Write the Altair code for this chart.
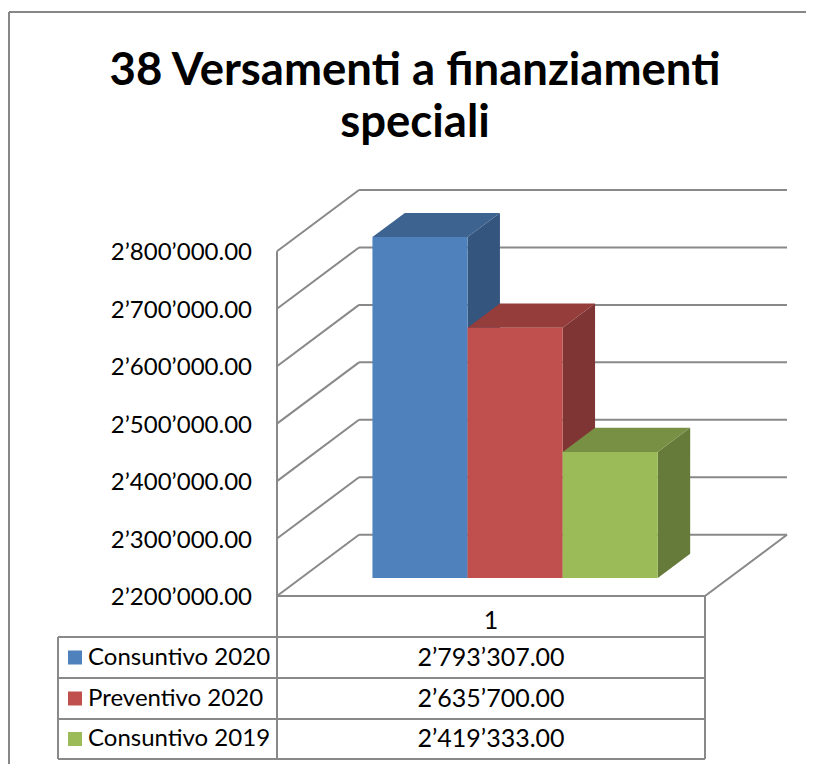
import altair as alt
import pandas as pd

# ---------------- data ----------------
title_lines = ["38 Versamenti a finanziamenti", "speciali"]
category_label = "1"
series = ["Consuntivo 2020", "Preventivo 2020", "Consuntivo 2019"]
values = [2793307.00, 2635700.00, 2419333.00]
tick_values = [2200000, 2300000, 2400000, 2500000, 2600000, 2700000, 2800000]
tick_labels = [f"{v:,.2f}".replace(",", "\u2019") for v in tick_values]
value_labels = [f"{v:,.2f}".replace(",", "\u2019") for v in values]

front_colors = ["#4F81BD", "#C0504D", "#9BBB59"]
top_colors = ["#3D6391", "#943D3B", "#779044"]
side_colors = ["#34557D", "#7F3533", "#667B3A"]
GRID = "#898989"
FONT = "Lato"

# ---------------- layout (pixels) ----------------
ORIGIN_X, ORIGIN_Y = 277, 190          # view top-left (page coords)
VIEW_W, VIEW_H = 510, 406              # back-wall box
FLOOR_Y = ORIGIN_Y + VIEW_H            # front floor line (page y)
FRONT_W = 428                          # front floor width px
PX_PER_VAL = 574.5 / 1e6               # px per value unit
DEPTH_PX_X, DEPTH_PX_Y = 82, 61.3      # 3D depth offset of the walls
BAR_W = 1 / 4.5                        # gap width 150 %
BAR_START = 0.75 / 4.5
F0, F1 = 0.294, 0.689                  # bar depth (front / back plane)

Y0 = tick_values[0]
X_MAX = VIEW_W / FRONT_W
Y_MAX = Y0 + VIEW_H / PX_PER_VAL
DX = DEPTH_PX_X / FRONT_W
DY = DEPTH_PX_Y / PX_PER_VAL


def px_x(px):
    return (px - ORIGIN_X) / FRONT_W


def px_y(py):
    return Y0 + (FLOOR_Y - py) / PX_PER_VAL


xs = alt.Scale(domain=[0, X_MAX], nice=False, zero=False)
ys = alt.Scale(domain=[Y0, Y_MAX], nice=False, zero=False)


def X(f, **kw):
    return alt.X(f, scale=xs, axis=None, **kw)


def Y(f, **kw):
    return alt.Y(f, scale=ys, axis=None, **kw)


# ---------------- walls / floor ----------------
segs = []
for v in tick_values:
    segs.append(dict(x=DX, x2=1 + DX, y=v + DY, y2=v + DY))      # back wall grid
    segs.append(dict(x=0, x2=DX, y=v, y2=v + DY))                # left wall diagonals
segs.append(dict(x=0, x2=1, y=Y0, y2=Y0))                        # floor front
segs.append(dict(x=1, x2=1 + DX, y=Y0, y2=Y0 + DY))              # floor right
# table lines
TBL_L, TBL_R = px_x(58), 1.0
row_lines = [637, 678, 719, 759]
for r in row_lines:
    segs.append(dict(x=TBL_L, x2=TBL_R, y=px_y(r), y2=px_y(r)))
segs.append(dict(x=0, x2=0, y=tick_values[-1], y2=px_y(row_lines[-1])))
segs.append(dict(x=TBL_L, x2=TBL_L, y=px_y(row_lines[0]), y2=px_y(row_lines[-1])))
segs.append(dict(x=1, x2=1, y=Y0, y2=px_y(row_lines[-1])))
seg_df = pd.DataFrame(segs)

lines = alt.Chart(seg_df).mark_rule(color=GRID, strokeWidth=2).encode(
    x=X("x:Q"), x2="x2:Q", y=Y("y:Q"), y2="y2:Q"
)

# outer chart frame
frame_df = pd.DataFrame([
    dict(x=px_x(9), x2=px_x(830), y=px_y(12), y2=px_y(12)),
    dict(x=px_x(9), x2=px_x(9), y=px_y(12), y2=px_y(790)),
])
frame = alt.Chart(frame_df).mark_rule(color="#878787", strokeWidth=2).encode(
    x=X("x:Q"), x2="x2:Q", y=Y("y:Q"), y2="y2:Q"
)

# ---------------- bars ----------------
d = F1 - F0
front_rows, side_rows, top_rows = [], [], []
for i, (s, v) in enumerate(zip(series, values)):
    x0 = BAR_START + i * BAR_W + F0 * DX
    x1 = x0 + BAR_W
    yb = Y0 + F0 * DY
    yt = v + F0 * DY
    front_rows.append(dict(s=s, x0=x0, x1=x1, yb=yb, yt=yt, c=front_colors[i]))
    side_rows.append(dict(s=s, x=x1, ylo=yb, yhi=yt, c=side_colors[i]))
    side_rows.append(dict(s=s, x=x1 + d * DX, ylo=yb + d * DY, yhi=yt + d * DY, c=side_colors[i]))
    top_rows.append(dict(s=s, y=yt, xl=x0, xr=x1, c=top_colors[i]))
    top_rows.append(dict(s=s, y=yt + d * DY, xl=x0 + d * DX, xr=x1 + d * DX, c=top_colors[i]))

sides = alt.Chart(pd.DataFrame(side_rows)).mark_area(orient="vertical").encode(
    x=X("x:Q"), y=Y("ylo:Q", stack=None), y2="yhi:Q",
    detail="s:N", color=alt.Color("c:N", scale=None)
)
tops = alt.Chart(pd.DataFrame(top_rows)).mark_area(orient="horizontal").encode(
    y=Y("y:Q"), x=X("xl:Q", stack=None), x2="xr:Q",
    detail="s:N", color=alt.Color("c:N", scale=None)
)
fronts = alt.Chart(pd.DataFrame(front_rows)).mark_rect().encode(
    x=X("x0:Q"), x2="x1:Q", y=Y("yb:Q"), y2="yt:Q",
    color=alt.Color("c:N", scale=None)
)

# ---------------- texts ----------------
tick_df = pd.DataFrame({"v": tick_values, "label": tick_labels, "x": px_x(252)})
ticks = alt.Chart(tick_df).mark_text(
    align="right", baseline="middle", font=FONT, fontSize=24, color="black", dy=2
).encode(x=X("x:Q"), y=Y("v:Q"), text="label:N")

title_df = pd.DataFrame({
    "t": title_lines,
    "x": [px_x(415)] * 2,
    "y": [px_y(85), px_y(137)],
})
title = alt.Chart(title_df).mark_text(
    align="center", baseline="alphabetic", font=FONT, fontSize=45.5,
    fontWeight="bold", color="black"
).encode(x=X("x:Q"), y=Y("y:Q"), text="t:N")

row_centers = [657.5, 698.5, 739]
head_df = pd.DataFrame({"t": [category_label], "x": [0.5], "y": [px_y(621)]})
header = alt.Chart(head_df).mark_text(
    align="center", baseline="middle", font=FONT, fontSize=25, color="black"
).encode(x=X("x:Q"), y=Y("y:Q"), text="t:N")

rows_df = pd.DataFrame({
    "s": series,
    "val": value_labels,
    "c": front_colors,
    "y": [px_y(r) for r in row_centers],
    "xs": px_x(75),
    "xn": px_x(88),
    "xv": 0.5,
})
squares = alt.Chart(rows_df).mark_square(size=196, opacity=1).encode(
    x=X("xs:Q"), y=Y("y:Q"), color=alt.Color("c:N", scale=None)
)
names = alt.Chart(rows_df).mark_text(
    align="left", baseline="middle", font=FONT, fontSize=24, color="black"
).encode(x=X("xn:Q"), y=Y("y:Q"), text="s:N")
vals = alt.Chart(rows_df).mark_text(
    align="center", baseline="middle", font=FONT, fontSize=25, color="black"
).encode(x=X("xv:Q"), y=Y("y:Q"), text="val:N")

chart = alt.layer(
    frame, lines, sides, tops, fronts, ticks, title, header, squares, names, vals
).properties(
    width=VIEW_W,
    height=VIEW_H,
    padding={"left": ORIGIN_X - 8, "top": ORIGIN_Y - 8,
             "right": 798 - (ORIGIN_X - 8) - VIEW_W,
             "bottom": 756 - (ORIGIN_Y - 8) - VIEW_H},
    autosize=alt.AutoSizeParams(type="none"),
    background="white",
).configure_view(strokeWidth=0)

chart.save("out.html", embed_options={"renderer": "svg", "actions": False})
